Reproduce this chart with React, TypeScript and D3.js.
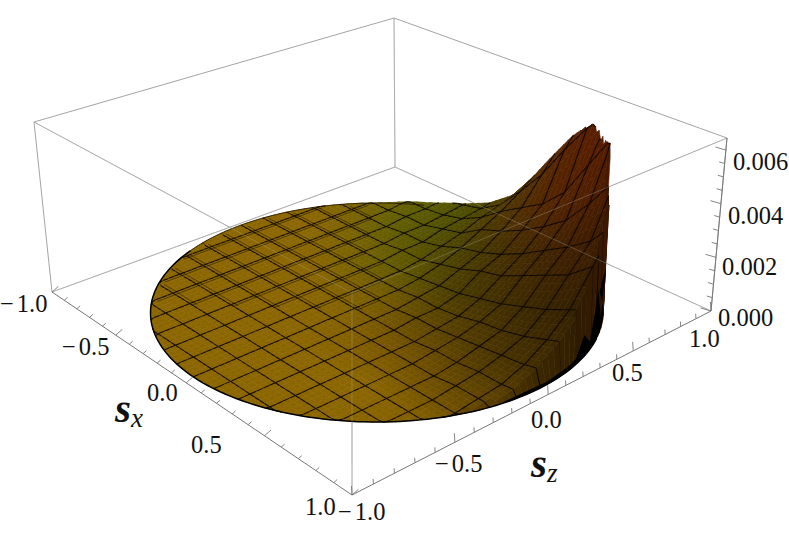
import React from "react";
import * as d3 from "d3";

// ---------- data ----------
const sxTicksMajor = [-1, -0.5, 0, 0.5, 1];
const szTicksMajor = [-1, -0.5, 0, 0.5, 1];
const zTicksMajor = [0, 0.002, 0.004, 0.006];
const sxLabels = ["1.0", "0.5", "0.0", "0.5", "1.0"];
const sxNegative = [true, true, false, false, false];
const szLabels = ["1.0", "0.5", "0.0", "0.5", "1.0"];
const szNegative = [true, true, false, false, false];
const zLabels = ["0.000", "0.002", "0.004", "0.006"];
const zMax = 0.00645;
const zUnit = 1e-4;
const rimRadius = 0.965;

// heights in 1e-4, rows sz = -1 .. 1, columns sx = -1 .. 1, step 0.125
const heights: number[][] = [
  [0,0,0,0,0,0,0,0,0,0,0,0,0,0,0,0,0],
  [0,0,0,0,0,0,0,0,0,0,0,0,0,0,0,0,0],
  [0,0,0,0,0,0,0,0,0,0,0,0,0,0,0,0,0],
  [0,0,0,0,0,0,0,0,0,0,0,0,0,0,0,0,0],
  [0,0,0,0,0,0,0,0,0,0,0,0,0,0,0,0,0],
  [0,0,0,0,0,0,0,0,0,0,0,0,0,0,0,0,0],
  [0,0,0,0,0,0,0,0,0,0,0,0,0,0,1,1,1],
  [0,0,0,0,0,0,0,0,0,0,0,0,1,1,2,2,3],
  [0,0,0,0,0,0,0,0,0,0,1,1,2,3,4,5,7],
  [0,0,0,0,0,0,0,0,0,1,1,2,4,5,7,10,13],
  [0,0,0,0,0,0,0,0,1,2,3,5,7,10,13,17,21],
  [0,0,0,0,0,0,1,1,3,5,8,10,14,18,22,29,36],
  [0,0,0,0,0,1,1,3,6,8,11,15,20,25,31,41,55],
  [0,0,0,0,1,1,3,5,10,13,17,22,28,38,50,64,64],
  [0,0,0,1,1,2,4,8,14,19,24,32,46,60,64,64,64],
  [0,0,1,1,2,3,5,10,19,29,42,54,63,64,64,64,64],
  [0,0,1,2,3,4,7,13,25,39,52,63,64,64,64,64,64],
];

// colours read at sx,sz = -1,-.75,..,1 (rows sz = -1..1)
const shadeR: number[][] = [
  [139,139,139,139,139,139,139,139,139],
  [139,139,139,139,139,139,139,139,139],
  [139,139,139,139,139,139,139,130,125],
  [139,139,139,139,135,125,115,100,95],
  [139,139,139,130,120,100,85,70,65],
  [139,139,125,105,88,72,65,55,50],
  [139,125,100,85,72,68,65,62,60],
  [139,110,90,75,78,82,85,90,90],
  [139,110,85,75,85,90,95,100,100],
];
const shadeG: number[][] = [
  [102,102,102,102,102,102,102,102,102],
  [102,102,102,102,102,102,102,102,102],
  [102,102,102,102,102,102,102,95,90],
  [102,102,102,102,100,90,82,72,66],
  [102,102,102,100,93,75,62,50,44],
  [102,102,100,95,78,58,46,36,30],
  [102,100,95,82,64,48,36,28,26],
  [102,100,90,76,54,38,30,26,24],
  [102,95,85,66,46,32,26,24,24],
];

// black spikes along the rim: angle from sz toward sx (deg), height in 1e-4
const spikeAngles = [103, 88, 80, 76, 72, 68, 63, 58, 53, 48, 44, 38];
const spikeHeights = [0, 1, 1.5, 2, 8, 3, 18, 4.5, 22, 6, 12, 0];

// ---------- projection ----------
type Pt = [number, number];
const bottomQuad: Pt[] = [[52, 292], [352, 495], [711, 311], [395, 167]];
const topQuad: Pt[] = [[34, 122], [352, 293], [727, 138], [394, 18]];

function homography(q: Pt[]) {
  const [[x0, y0], [x1, y1], [x2, y2], [x3, y3]] = q;
  const dx1 = x1 - x2, dx2 = x3 - x2, sx = x0 - x1 + x2 - x3;
  const dy1 = y1 - y2, dy2 = y3 - y2, sy = y0 - y1 + y2 - y3;
  const den = dx1 * dy2 - dx2 * dy1;
  const g = (sx * dy2 - dx2 * sy) / den;
  const h = (dx1 * sy - sx * dy1) / den;
  const a = x1 - x0 + g * x1, b = x3 - x0 + h * x3, c = x0;
  const d = y1 - y0 + g * y1, e = y3 - y0 + h * y3, f = y0;
  return (u: number, v: number): Pt => {
    const w = g * u + h * v + 1;
    return [(a * u + b * v + c) / w, (d * u + e * v + f) / w];
  };
}
const hBottom = homography(bottomQuad);
const hTop = homography(topQuad);
const uScale = d3.scaleLinear().domain([-1, 1]).range([0, 1]);
const wScale = d3.scaleLinear().domain([0, zMax]).range([0, 1]);
function project(sx: number, sz: number, z: number): Pt {
  const b = hBottom(uScale(sx), uScale(sz));
  const t = hTop(uScale(sx), uScale(sz));
  const w = wScale(z);
  return [b[0] + (t[0] - b[0]) * w, b[1] + (t[1] - b[1]) * w];
}
const projS = (sx: number, sz: number, z: number) => project(sx - 0.018, sz + 0.012, z);

// ---------- sampling ----------
function bilinear(grid: number[][], sx: number, sz: number) {
  const n = grid.length - 1;
  const fx = Math.min(n - 1e-6, Math.max(0, ((sx + 1) / 2) * n));
  const fz = Math.min(n - 1e-6, Math.max(0, ((sz + 1) / 2) * n));
  const i = Math.floor(fx), j = Math.floor(fz);
  const a = fx - i, b = fz - j;
  return (
    grid[j][i] * (1 - a) * (1 - b) + grid[j][i + 1] * a * (1 - b) +
    grid[j + 1][i] * (1 - a) * b + grid[j + 1][i + 1] * a * b
  );
}
const angleOf = (sx: number, sz: number) => (Math.atan2(sx, sz) * 180) / Math.PI;
type V = { sx: number; sz: number; z: number; out: boolean; drop: boolean };
function vertex(sx0: number, sz0: number, odd: boolean): V {
  const r = Math.hypot(sx0, sz0);
  const out = r > rimRadius;
  const sx = out ? (sx0 / r) * rimRadius : sx0, sz = out ? (sz0 / r) * rimRadius : sz0;
  const t = angleOf(sx, sz);
  const drop = out && t > 42 && t < 115;
  let z = drop ? 0 : bilinear(heights, sx, sz);
  if (out && !drop && t > 18 && t <= 42 && odd) z -= 3; // notched crest
  return { sx, sz, z: Math.min(z * zUnit, zMax), out, drop };
}

const line = d3.line<Pt>();
const SUB = 4, CELLS = 16, N = SUB * CELLS;
const STEP = 2 / N;
const idx = d3.range(N + 1);
const coord = d3.scaleLinear().domain([0, N]).range([-1, 1]);

type Item = { depth: number; d: string; fill?: string; stroke?: string; w?: number; o?: number };
function buildSurface(): Item[] {
  const items: Item[] = [];
  const verts = idx.map((j) => idx.map((i) => vertex(coord(i), coord(j), (i + j) % 2 === 1)));
  const meshColor = "#0a0500";
  const seg = (a: V, b: V, ox = 0, oz = 0) =>
    line([projS(a.sx + ox, a.sz + oz, a.z), projS(b.sx + ox, b.sz + oz, b.z)])!;
  for (let j = 0; j < N; j++) {
    for (let i = 0; i < N; i++) {
      const q = [verts[j][i], verts[j][i + 1], verts[j + 1][i + 1], verts[j + 1][i]];
      if (q.every((v) => v.out)) continue;
      const cx = d3.mean(q, (v) => v.sx)!, cz = d3.mean(q, (v) => v.sz)!;
      let r = bilinear(shadeR, cx, cz), g = bilinear(shadeG, cx, cz);
      const wall = q.some((v) => v.drop);
      if (wall) { r *= 0.9; g *= 0.88; }
      const fill = `rgb(${Math.round(r)},${Math.round(g)},0)`;
      const depth = cx - cz;
      const d = line(q.map((v) => projS(v.sx, v.sz, v.z)))! + "Z";
      items.push({ depth, d, fill, stroke: fill, w: 0.6 });
      const flatBand = cz - cx > -0.15 && q.every((v) => v.z === 0 && !v.out);
      if (j % SUB === 0 && !(q[0].out && q[1].out)) {
        items.push({ depth: depth + STEP + 0.0005, d: seg(q[0], q[1]), stroke: meshColor, w: 1.05, o: 0.95 });
        if (flatBand) items.push({ depth: depth + STEP + 0.0006, d: seg(q[0], q[1], 0, 0.018), stroke: meshColor, w: 0.8, o: 0.55 });
      }
      if (i % SUB === 0 && !(q[0].out && q[3].out)) {
        items.push({ depth: depth + 0.0005, d: seg(q[0], q[3]), stroke: meshColor, w: 1.05, o: 0.95 });
        if (flatBand) items.push({ depth: depth + STEP + 0.0006, d: seg(q[0], q[3], 0.018, 0), stroke: meshColor, w: 0.8, o: 0.55 });
      }
    }
  }
  return items.sort((a, b) => a.depth - b.depth);
}
const rad = (t: number) => (t * Math.PI) / 180;
const rimPoint = (t: number, z: number) => projS(rimRadius * Math.sin(rad(t)), rimRadius * Math.cos(rad(t)), z);
function rimArc(t0: number, t1: number): Pt[] {
  return d3.range(t0, t1 + 0.001, (t1 - t0) / 120).map((t) => rimPoint(t, 0));
}
function spikePath() {
  const top = spikeAngles.map((t, k) => rimPoint(t, spikeHeights[k] * zUnit));
  const base = rimArc(spikeAngles[spikeAngles.length - 1], spikeAngles[0]);
  return line([...top, ...base])! + "Z";
}

const boxColor = "#9a9a9a";
const A0 = project(-1, -1, 0), B0 = project(1, -1, 0), C0 = project(1, 1, 0), D0 = project(-1, 1, 0);
const A1 = project(-1, -1, zMax), B1 = project(1, -1, zMax), C1 = project(1, 1, zMax), D1 = project(-1, 1, zMax);
const backEdges: [Pt, Pt][] = [[A0, D0], [D0, C0], [A0, A1], [D0, D1], [C0, C1], [A1, D1], [D1, C1], [A1, B1], [B1, C1], [B0, B1]];
const overlayEdges: [Pt, Pt][] = [[A1, B1], [B1, C1], [B0, B1], [A0, D0], [D0, C0], [D0, D1]];
const axisEdges: [Pt, Pt][] = [[A0, B0], [B0, C0], [C0, C1]];

const serif = "Liberation Serif";
const tickVal = d3.range(-1, 1.0001, 0.1);
const zTickVal = d3.range(0, zMax, 0.0005);

function Label({ x, y, t, neg }: { x: number; y: number; t: string; neg: boolean }) {
  return (
    <text x={x} y={y}>
      {neg ? <tspan>−</tspan> : null}
      <tspan dx={neg ? 3 : 0}>{t}</tspan>
    </text>
  );
}

export default function App() {
  const items = React.useMemo(buildSurface, []);
  return (
    <svg width={789} height={545} viewBox="0 0 789 545"
      style={{ position: "absolute", left: 0, top: 0, background: "#fff", fontFamily: serif }}>
      {backEdges.map((e, i) => (
        <path key={i} d={line(e)!} stroke={boxColor} strokeWidth={0.9} fill="none" />
      ))}
      <path d={line([[352, 421], [352, 463]])!} stroke="#cfcfcf" strokeWidth={2} fill="none" />
      <g>
        {items.map((it, i) => (
          <path key={i} d={it.d} fill={it.fill ?? "none"} stroke={it.stroke} strokeWidth={it.w} strokeOpacity={it.fill ? 1 : it.o} />
        ))}
      </g>
      <path d={spikePath()} fill="#000" />
      <path d={line(rimArc(62, 250))!} fill="none" stroke="#000" strokeWidth={1.5} />
      <path d={line(rimArc(250, 325))!} fill="none" stroke="#1a1200" strokeWidth={0.8} />
      {overlayEdges.map((e, i) => (
        <path key={i} d={line(e)!} stroke="#c4c4c4" strokeOpacity={0.28} strokeWidth={1} fill="none" />
      ))}
      {axisEdges.map((e, i) => (
        <path key={i} d={line(e)!} stroke="#777" strokeWidth={1} fill="none" />
      ))}
      {tickVal.map((v, i) => {
        const maj = sxTicksMajor.some((m) => Math.abs(m - v) < 1e-6);
        const p = project(v, -1, 0);
        const len = maj ? 1.9 : 1;
        return <path key={i} d={line([p, [p[0] + 3.4 * len, p[1] - 3 * len]])!} stroke="#777" strokeWidth={0.9} />;
      })}
      {tickVal.map((v, i) => {
        const maj = szTicksMajor.some((m) => Math.abs(m - v) < 1e-6);
        const p = project(1, v, 0);
        const len = maj ? 1.8 : 1;
        return <path key={i} d={line([p, [p[0] - 0.3 * len, p[1] - 5 * len]])!} stroke="#777" strokeWidth={0.9} />;
      })}
      {zTickVal.map((v, i) => {
        const maj = zTicksMajor.some((m) => Math.abs(m - v) < 1e-6);
        const p = project(1, 1, v);
        const len = maj ? 1.9 : 1;
        return <path key={i} d={line([p, [p[0] - 5.5 * len, p[1] - 1.6 * len]])!} stroke="#777" strokeWidth={0.9} />;
      })}
      <g fontSize={24.5} fill="#111">
        {sxLabels.map((t, i) => (
          <Label key={i} t={t} neg={sxNegative[i]} x={[0, 62, 147, 191, 305][i]} y={[312, 355, 401, 453, 515][i]} />
        ))}
        {szLabels.map((t, i) => (
          <Label key={i} t={t} neg={szNegative[i]} x={[338, 435, 531, 612, 689][i]} y={[520, 472, 428, 381, 347][i]} />
        ))}
        {zLabels.map((t, i) => (
          <text key={i} x={[718, 722, 728, 733][i]} y={[326, 275, 224, 170][i]}>{t}</text>
        ))}
      </g>
      <text x={115} y={422} fontSize={41} fontWeight="bold" fontStyle="italic" fill="#111">s</text>
      <text x={131} y={427} fontSize={27} fontStyle="italic" fill="#111">x</text>
      <text x={531} y={477} fontSize={41} fontWeight="bold" fontStyle="italic" fill="#111">s</text>
      <text x={547} y={482} fontSize={27} fontStyle="italic" fill="#111">z</text>
    </svg>
  );
}
